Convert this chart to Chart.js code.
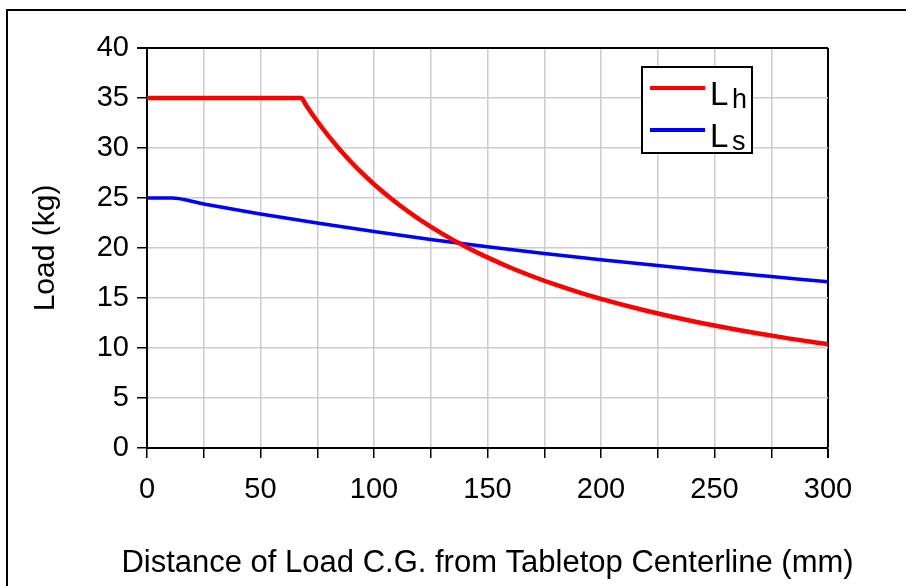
<!DOCTYPE html>
<html>
<head>
<meta charset="utf-8">
<script src="https://cdn.jsdelivr.net/npm/chart.js@4/dist/chart.umd.min.js"></script>
<style>
  html, body { margin: 0; padding: 0; background: #fff; overflow: hidden; }
  #frame { position: absolute; left: 6px; top: 9px; width: 1000px; height: 1000px; border: 2px solid #000; }
  #wrap { position: absolute; left: 0; top: 0; width: 906px; height: 586px; }
</style>
</head>
<body>
<div id="frame"></div>
<div id="wrap"><canvas id="chart" width="906" height="586"></canvas></div>
<script>
// distance (mm) / load (kg)
const lhX = [0, 68, 70, 75, 80, 85, 90, 95, 100, 110, 120, 130, 140, 150, 160, 170, 180, 190, 200, 220, 240, 260, 280, 300];
const lhY = [35, 35, 34.3, 32.67, 31.18, 29.83, 28.58, 27.44, 26.38, 24.5, 22.87, 21.44, 20.18, 19.06, 18.05, 17.15, 16.33, 15.59, 14.91, 13.72, 12.7, 11.83, 11.06, 10.39];
const lsX = [0, 11, 25, 50, 75, 100, 125, 150, 175, 200, 225, 250, 275, 300];
const lsY = [25, 25, 24.4, 23.4, 22.5, 21.65, 20.85, 20.12, 19.45, 18.83, 18.24, 17.68, 17.15, 16.62];
const xTitle = "Distance of Load C.G. from Tabletop Centerline (mm)";
const yTitle = "Load (kg)";

const font = "Arial, 'Liberation Sans', sans-serif";

function toPoints(xs, ys) {
  return xs.map((x, i) => ({ x: x, y: ys[i] }));
}

// x title drawn by hand so it is not squeezed to the axis width
const xTitlePlugin = {
  id: "xTitlePlugin",
  afterDraw(chart) {
    const ctx = chart.ctx;
    const a = chart.chartArea;
    ctx.save();
    ctx.fillStyle = "#000";
    ctx.font = "31px " + font;
    ctx.textAlign = "center";
    ctx.textBaseline = "middle";
    ctx.fillText(xTitle, (a.left + a.right) / 2, a.bottom + 115);
    ctx.restore();
  }
};

// legend with subscripts, drawn by hand
const subLegend = {
  id: "subLegend",
  afterDraw(chart) {
    const ctx = chart.ctx;
    const a = chart.chartArea;
    const bx = a.right - 186, by = a.top + 19, bw = 110, bh = 86;
    ctx.save();
    ctx.fillStyle = "#fff";
    ctx.fillRect(bx, by, bw, bh);
    ctx.strokeStyle = "#000";
    ctx.lineWidth = 2;
    ctx.strokeRect(bx, by, bw, bh);
    const rows = [
      { color: "#ff0000", sub: "h", y: by + 21 },
      { color: "#0000ff", sub: "s", y: by + 63 }
    ];
    rows.forEach(r => {
      ctx.strokeStyle = r.color;
      ctx.lineWidth = 4;
      ctx.beginPath();
      ctx.moveTo(bx + 8, r.y);
      ctx.lineTo(bx + 63, r.y);
      ctx.stroke();
      ctx.fillStyle = "#000";
      ctx.textBaseline = "alphabetic";
      ctx.font = "33px " + font;
      ctx.fillText("L", bx + 68, r.y + 17);
      ctx.font = "27px " + font;
      ctx.fillText(r.sub, bx + 90, r.y + 20);
    });
    ctx.restore();
  }
};

const ctx = document.getElementById("chart").getContext("2d");
new Chart(ctx, {
  type: "scatter",
  data: {
    datasets: [
      {
        label: "Lh",
        data: toPoints(lhX, lhY),
        showLine: true,
        borderColor: "#ff0000",
        borderWidth: 4.5,
        pointRadius: 0,
        cubicInterpolationMode: "monotone"
      },
      {
        label: "Ls",
        data: toPoints(lsX, lsY),
        showLine: true,
        borderColor: "#0000ff",
        borderWidth: 3.5,
        pointRadius: 0,
        cubicInterpolationMode: "monotone"
      }
    ]
  },
  options: {
    responsive: false,
    animation: false,
    layout: { padding: { left: 20, top: 48, right: 78, bottom: 2 } },
    plugins: {
      legend: { display: false },
      tooltip: { enabled: false }
    },
    scales: {
      x: {
        type: "linear",
        min: 0,
        max: 300,
        afterFit: s => { s.height = 136; },
        ticks: {
          stepSize: 25,
          autoSkip: false,
          maxRotation: 0,
          padding: 15,
          color: "#000",
          font: { family: font, size: 29 },
          callback: v => (v % 50 === 0 ? v : "")
        },
        grid: {
          color: c => (c.tick && c.tick.value === 300 ? "#000" : "#cccccc"),
          lineWidth: c => (c.tick && c.tick.value === 300 ? 2 : 1.5),
          tickColor: "#000",
          tickLength: 10
        },
        border: { color: "#000", width: 2 },
        title: { display: false }
      },
      y: {
        min: 0,
        max: 40,
        afterFit: s => { s.width = 127; },
        ticks: {
          stepSize: 5,
          padding: 8,
          color: "#000",
          font: { family: font, size: 29 }
        },
        grid: {
          color: c => (c.tick && c.tick.value === 40 ? "#000" : "#cccccc"),
          lineWidth: c => (c.tick && c.tick.value === 40 ? 2 : 1.5),
          tickColor: "#000",
          tickLength: 10
        },
        border: { color: "#000", width: 2 },
        title: {
          display: true,
          text: yTitle,
          color: "#000",
          font: { family: font, size: 30 },
          padding: { top: 8, bottom: 0 }
        }
      }
    }
  },
  plugins: [subLegend, xTitlePlugin]
});
</script>
</body>
</html>
